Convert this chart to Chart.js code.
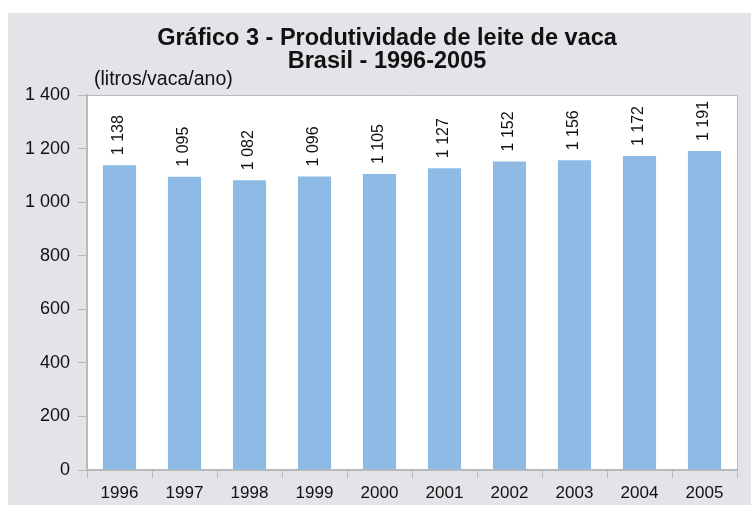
<!DOCTYPE html>
<html>
<head>
<meta charset="utf-8">
<script src="https://cdn.jsdelivr.net/npm/chart.js@4.4.1/dist/chart.umd.min.js"></script>
<style>
  html, body { margin: 0; padding: 0; background: #fff; }
  #wrap { width: 751px; height: 505px; }
</style>
</head>
<body>
<div id="wrap"><canvas id="barChart"></canvas></div>
<script>
var anos = ['1996', '1997', '1998', '1999', '2000', '2001', '2002', '2003', '2004', '2005'];
var produtividade = [1138, 1095, 1082, 1096, 1105, 1127, 1152, 1156, 1172, 1191];
var yTicks = [0, 200, 400, 600, 800, 1000, 1200, 1400];

var titulo = ['Gráfico 3 - Produtividade de leite de vaca', 'Brasil - 1996-2005'];
var unidade = '(litros/vaca/ano)';

// separador de milhar com espaco
function fmt(n) {
  return String(n).replace(/\B(?=(\d{3})+(?!\d))/g, ' ');
}

// fundo cinza, area do grafico branca, titulo e unidade
var fundo = {
  id: 'fundo',
  beforeDraw: function(chart) {
    var ctx = chart.ctx, a = chart.chartArea;
    ctx.save();
    ctx.fillStyle = '#e3e4e8';
    ctx.fillRect(8, 13, chart.width - 8, chart.height - 13);
    ctx.fillStyle = '#ffffff';
    ctx.fillRect(a.left, a.top, a.right - a.left, a.bottom - a.top);

    ctx.fillStyle = '#111';
    ctx.textAlign = 'center';
    ctx.textBaseline = 'alphabetic';
    ctx.font = 'bold 23.5px "Liberation Sans", Arial, sans-serif';
    ctx.fillText(titulo[0], 387, 45);
    ctx.fillText(titulo[1], 387, 68);

    ctx.textAlign = 'left';
    ctx.textBaseline = 'middle';
    ctx.font = '19.5px "Liberation Sans", Arial, sans-serif';
    ctx.fillText(unidade, a.left + 7, 80);
    ctx.restore();
  },
  afterDraw: function(chart) {
    var ctx = chart.ctx, a = chart.chartArea;
    ctx.save();
    ctx.strokeStyle = '#b9b9bb';
    ctx.lineWidth = 1;
    ctx.beginPath();
    ctx.moveTo(a.left, a.top + 0.5);
    ctx.lineTo(a.right + 0.5, a.top + 0.5);
    ctx.lineTo(a.right + 0.5, a.bottom);
    ctx.stroke();
    ctx.restore();
  }
};

// rotulos de valor verticais acima das barras
var rotulos = {
  id: 'rotulos',
  afterDatasetsDraw: function(chart) {
    var ctx = chart.ctx;
    var meta = chart.getDatasetMeta(0);
    ctx.save();
    ctx.fillStyle = '#111';
    ctx.font = '16px "Liberation Sans", Arial, sans-serif';
    ctx.textAlign = 'left';
    ctx.textBaseline = 'middle';
    meta.data.forEach(function(bar, i) {
      ctx.save();
      ctx.translate(bar.x - 1, bar.y - 10);
      ctx.rotate(-Math.PI / 2);
      ctx.fillText(fmt(produtividade[i]), 0, 0);
      ctx.restore();
    });
    ctx.restore();
  }
};

new Chart(document.getElementById('barChart'), {
  type: 'bar',
  data: {
    labels: anos,
    datasets: [{
      data: produtividade,
      backgroundColor: '#8dbbe6',
      borderWidth: 0,
      categoryPercentage: 0.51,
      barPercentage: 1.0
    }]
  },
  options: {
    responsive: true,
    maintainAspectRatio: false,
    animation: false,
    layout: { padding: { left: 0, top: 95, right: 14, bottom: 0 } },
    plugins: {
      legend: { display: false },
      tooltip: { enabled: false }
    },
    scales: {
      x: {
        grid: {
          offset: true,
          drawOnChartArea: false,
          drawTicks: true,
          tickLength: 8,
          color: '#b9b9bb'
        },
        border: { display: true, color: '#b9b9bb', width: 2 },
        ticks: {
          color: '#111',
          padding: 5,
          maxRotation: 0,
          font: { family: '"Liberation Sans", Arial, sans-serif', size: 17 }
        },
        afterFit: function(scale) { scale.height = 35; }
      },
      y: {
        min: 0,
        max: 1400,
        afterBuildTicks: function(scale) {
          scale.ticks = yTicks.map(function(v) { return { value: v }; });
        },
        grid: {
          drawOnChartArea: false,
          drawTicks: true,
          tickLength: 9,
          color: '#b9b9bb'
        },
        border: { display: true, color: '#b9b9bb', width: 2 },
        ticks: {
          color: '#111',
          padding: 8,
          font: { family: '"Liberation Sans", Arial, sans-serif', size: 18 },
          callback: function(v) { return fmt(v); }
        },
        afterFit: function(scale) { scale.width = 87; }
      }
    }
  },
  plugins: [fundo, rotulos]
});
</script>
</body>
</html>
